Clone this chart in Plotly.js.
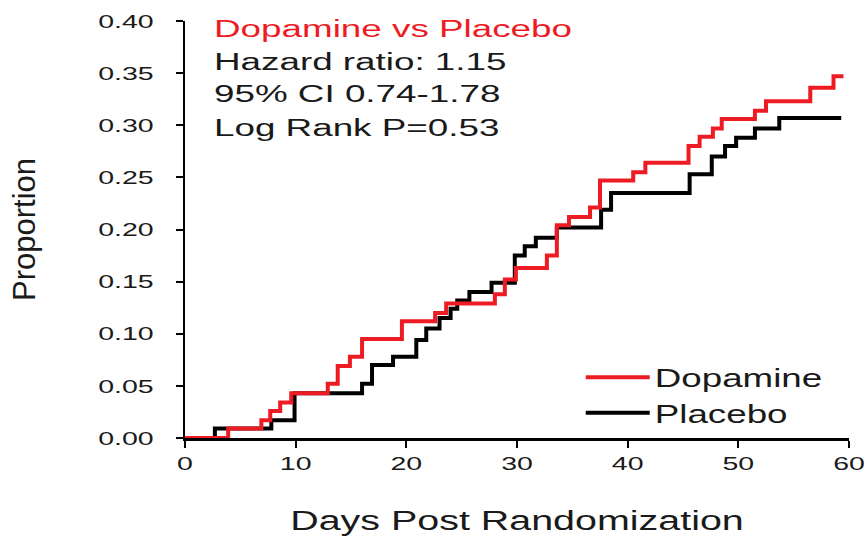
<!DOCTYPE html>
<html>
<head>
<meta charset="utf-8">
<script src="https://cdn.plot.ly/plotly-3.0.1.min.js"></script>
<style>
  html, body { margin: 0; padding: 0; background: #fff; }
  #chart { width: 867px; height: 539px; }
</style>
</head>
<body>
<div id="chart"></div>
<script>
// Kaplan-Meier style cumulative proportions
const placeboDays = [0, 2.7, 7.8, 9.9, 16.0, 16.9, 18.8, 20.9, 21.8, 23.0, 24.0, 24.6, 25.7, 27.7, 29.8, 30.7, 31.7, 33.6, 37.6, 38.5, 45.6, 47.6, 48.8, 49.8, 51.5, 53.7, 59.3];
const placeboProp = [0, 0.009, 0.017, 0.043, 0.052, 0.070, 0.078, 0.094, 0.105, 0.115, 0.124, 0.132, 0.140, 0.149, 0.175, 0.184, 0.192, 0.202, 0.219, 0.235, 0.253, 0.270, 0.280, 0.288, 0.297, 0.307, 0.307];

const dopamineDays = [0, 3.9, 6.9, 7.7, 8.6, 9.6, 12.9, 13.8, 14.9, 16.0, 19.6, 22.6, 23.6, 28.0, 28.9, 29.9, 32.7, 33.6, 34.7, 36.6, 37.5, 40.5, 41.6, 45.5, 46.5, 47.7, 48.5, 51.5, 52.5, 56.5, 58.6, 59.5];
const dopamineProp = [0, 0.009, 0.017, 0.026, 0.034, 0.043, 0.052, 0.069, 0.078, 0.095, 0.112, 0.120, 0.129, 0.138, 0.152, 0.163, 0.175, 0.204, 0.212, 0.221, 0.247, 0.255, 0.264, 0.280, 0.289, 0.297, 0.306, 0.314, 0.323, 0.336, 0.347, 0.347];

const seriesNames = ['Dopamine', 'Placebo'];
const infoTitle = 'Dopamine vs Placebo';
const infoLines = ['Hazard ratio: 1.15', '95% CI 0.74-1.78', 'Log Rank P=0.53'];
const xTicks = [0, 10, 20, 30, 40, 50, 60];
const yTicks = [0, 0.05, 0.10, 0.15, 0.20, 0.25, 0.30, 0.35, 0.40];

const RED = '#ED1C24';
const FONT = 'Liberation Sans, Arial, sans-serif';

const traces = [
  {
    x: placeboDays, y: placeboProp, name: seriesNames[1],
    type: 'scatter', mode: 'lines', line: { shape: 'hv', color: '#000000', width: 4 },
    legendrank: 2
  },
  {
    x: dopamineDays, y: dopamineProp, name: seriesNames[0],
    type: 'scatter', mode: 'lines', line: { shape: 'hv', color: RED, width: 4 },
    legendrank: 1
  }
];

const infoY = [0.9017, 0.824, 0.7439];
const annotations = [
  { text: infoTitle, xref: 'paper', yref: 'paper', x: 0.04, y: 0.9815,
    xanchor: 'left', yanchor: 'middle', align: 'left', showarrow: false,
    font: { family: FONT, size: 23, color: RED } }
].concat(infoLines.map((t, i) => ({
    text: t, xref: 'paper', yref: 'paper', x: 0.04, y: infoY[i],
    xanchor: 'left', yanchor: 'middle', align: 'left', showarrow: false,
    font: { family: FONT, size: 23, color: '#1a1a1a' } })));

const layout = {
  width: 867, height: 539,
  margin: { l: 185, r: 18, t: 21, b: 101 },
  paper_bgcolor: '#ffffff', plot_bgcolor: '#ffffff',
  font: { family: FONT, color: '#1a1a1a' },
  showlegend: true,
  legend: {
    x: 0.596, y: 0.2, xanchor: 'left', yanchor: 'top',
    bgcolor: 'rgba(0,0,0,0)', itemwidth: 64,
    font: { family: FONT, size: 25, color: '#1a1a1a' }
  },
  xaxis: {
    range: [0, 60], tickvals: xTicks, ticktext: xTicks.map(String),
    showgrid: false, zeroline: false,
    showline: true, linecolor: '#000', linewidth: 2.5, mirror: false,
    ticks: 'outside', ticklen: 7, tickwidth: 2, tickcolor: '#000',
    tickfont: { family: FONT, size: 19, color: '#1a1a1a' },
    title: { text: 'Days Post Randomization', standoff: 38,
             font: { family: FONT, size: 27, color: '#1a1a1a' } }
  },
  yaxis: {
    range: [0, 0.40], tickvals: yTicks, ticktext: yTicks.map(v => v.toFixed(2)),
    showgrid: false, zeroline: false,
    showline: true, linecolor: '#000', linewidth: 2.5,
    ticks: 'outside', ticklen: 7, tickwidth: 2, tickcolor: '#000',
    ticklabelstandoff: 18,
    tickfont: { family: FONT, size: 19, color: '#1a1a1a' },
    title: { text: 'Proportion', standoff: 72,
             font: { family: FONT, size: 31, color: '#1a1a1a' } }
  },
  annotations: annotations
};

const gd = document.getElementById('chart');

function stretch(selector, factor) {
  gd.querySelectorAll(selector).forEach(function (t) {
    const w = t.getComputedTextLength();
    if (w > 0) {
      t.setAttribute('textLength', (w * factor).toFixed(1));
      t.setAttribute('lengthAdjust', 'spacingAndGlyphs');
    }
  });
}

Plotly.newPlot(gd, traces, layout, { displayModeBar: false, staticPlot: true }).then(function () {
  stretch('.xtick text', 1.5);
  stretch('.ytick text', 1.5);
  stretch('.annotation-text', 1.6);
  stretch('.legendtext', 1.47);
  stretch('.g-xtitle text', 1.46);
  // let the widened legend labels show in full
  gd.querySelectorAll('.legend [clip-path], .legend').forEach(function (el) {
    el.removeAttribute('clip-path');
  });
});
</script>
</body>
</html>
